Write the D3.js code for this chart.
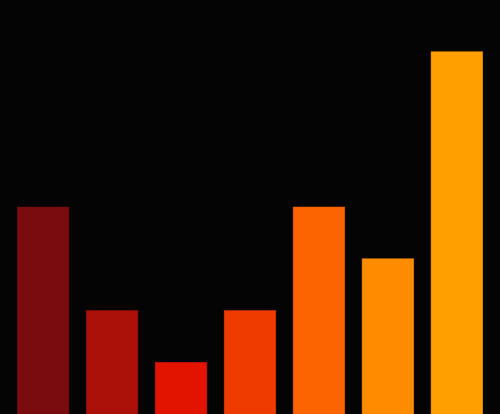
<!DOCTYPE html>
<html>
<head>
<meta charset="utf-8">
<script src="https://cdn.jsdelivr.net/npm/d3@7"></script>
<style>
  html, body { margin: 0; padding: 0; background: #040405; overflow: hidden; }
</style>
</head>
<body>
<div id="chart"></div>
<script>
const categories = ["A", "B", "C", "D", "E", "F", "G"];
const values = [4, 2, 1, 2, 4, 3, 7];
const colors = ["#7a0c0f", "#ab1009", "#e21400", "#ef3b00", "#fb6400", "#ff8c00", "#ffa000"];

const width = 500, height = 414;

const svg = d3.select("#chart")
    .append("svg")
    .attr("width", width)
    .attr("height", height)
    .style("display", "block")
    .style("background", "#040405");

// band scale, no axes drawn
const x = d3.scaleBand()
    .domain(categories)
    .range([0, width])
    .padding(0.25);

const y = d3.scaleLinear()
    .domain([0, 8])
    .range([height, 0]);

svg.selectAll("rect.bar")
    .data(values)
    .enter()
    .append("rect")
    .attr("class", "bar")
    .attr("x", (d, i) => x(categories[i]))
    .attr("y", d => y(d))
    .attr("width", x.bandwidth())
    .attr("height", d => height - y(d))
    .attr("fill", (d, i) => colors[i])
    .attr("stroke", (d, i) => d3.color(colors[i]).darker(0.4))
    .attr("stroke-width", 0.5);
</script>
</body>
</html>
